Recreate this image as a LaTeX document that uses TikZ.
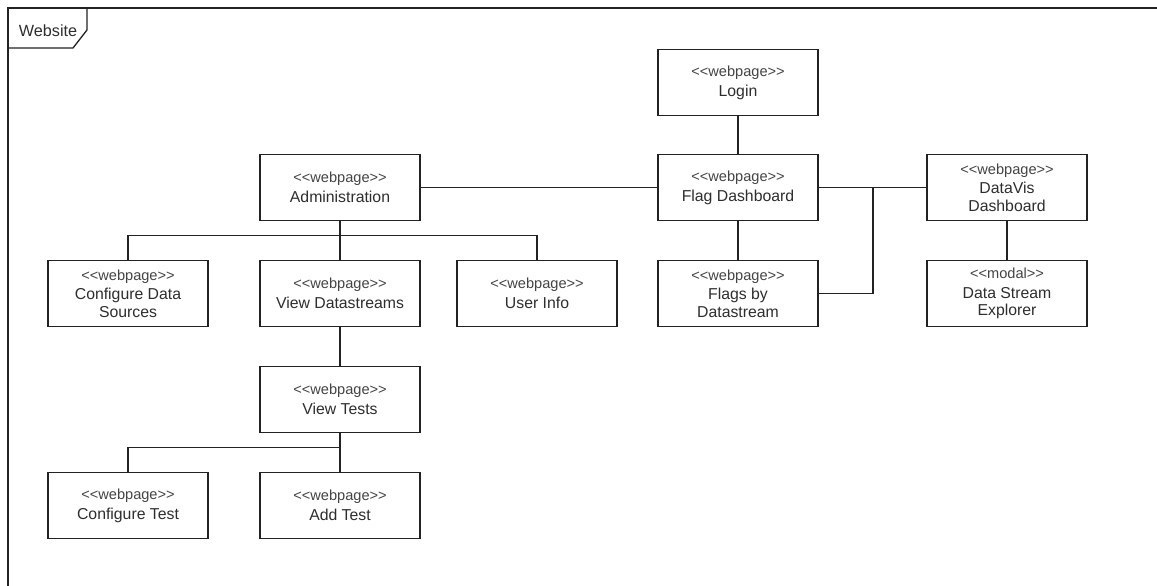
\documentclass[tikz,border=0pt]{standalone}
\usepackage{fontspec}
\newfontfamily\uifont{Liberation Sans}
\definecolor{inkline}{HTML}{222222}
\definecolor{inktext}{HTML}{2E2E2E}
\definecolor{inkstereo}{HTML}{444444}
\newcommand\stereo[1]{{\fontsize{14.6}{18}\selectfont\color{inkstereo}<\kern0pt<#1>\kern0pt>}\\[2.2pt]}
\tikzset{
  page/.style={draw=inkline, line width=1.3pt, fill=white,
    minimum width=160pt, minimum height=66pt, inner sep=0pt,
    align=center, text=inktext,
    font=\uifont\fontsize{15.8}{17.6}\selectfont},
  link/.style={draw=inkline, line width=1.3pt},
}
\begin{document}
\begin{tikzpicture}[x=1pt, y=-1pt]
\useasboundingbox (0,0) rectangle (1157,586);
\fill[white] (0,0) rectangle (1157,586);

% package frame
\begin{scope}
\clip (0,0) rectangle (1157,586);
\draw[link] (8,600) -- (8,8) -- (1170,8);
\end{scope}
\draw[link] (8,8) -- (87,8) -- (87,30) -- (73,48) -- (8,48);
\node[text=inktext, font=\uifont\fontsize{16.2}{18}\selectfont, inner sep=0pt] (frametitle) at (48,31) {Website};

% pages
\node[page] (login)     at (738,82.5)  {\stereo{webpage}Login};
\node[page] (flagdash)  at (738,187.5) {\stereo{webpage}Flag Dashboard};
\node[page] (flagsby)   at (738,293.5) {\stereo{webpage}Flags by\\Datastream};
\node[page] (datavis)   at (1007,187.5) {\stereo{webpage}DataVis\\Dashboard};
\node[page] (dse)       at (1007,293.5) {\stereo{modal}Data Stream\\Explorer};
\node[page] (admin)     at (340,187.5) {\stereo{webpage}Administration};
\node[page] (cds)       at (128,293.5) {\stereo{webpage}Configure Data\\Sources};
\node[page] (vds)       at (340,293.5) {\stereo{webpage}View Datastreams};
\node[page] (userinfo)  at (537,293.5) {\stereo{webpage}User Info};
\node[page] (viewtests) at (340,399.5) {\stereo{webpage}View Tests};
\node[page] (conftest)  at (128,505.5) {\stereo{webpage}Configure Test};
\node[page] (addtest)   at (340,505.5) {\stereo{webpage}Add Test};

% junction points
\coordinate (fdjoin) at (873,187.5);
\coordinate (adbus) at (340,235.5);
\coordinate (vtbus) at (340,447.5);

% connectors
\draw[link] (login) -- (flagdash);
\draw[link] (admin) -- (flagdash);
\draw[link] (flagdash) -- (flagsby);
\draw[link] (flagdash) -- (datavis);
\draw[link] (flagsby.east) -| (fdjoin);
\draw[link] (datavis) -- (dse);
\draw[link] (admin) -- (vds);
\draw[link] (cds.north) |- (adbus) -| (userinfo.north);
\draw[link] (vds) -- (viewtests);
\draw[link] (viewtests) -- (addtest);
\draw[link] (conftest.north) |- (vtbus);
\end{tikzpicture}
\end{document}
